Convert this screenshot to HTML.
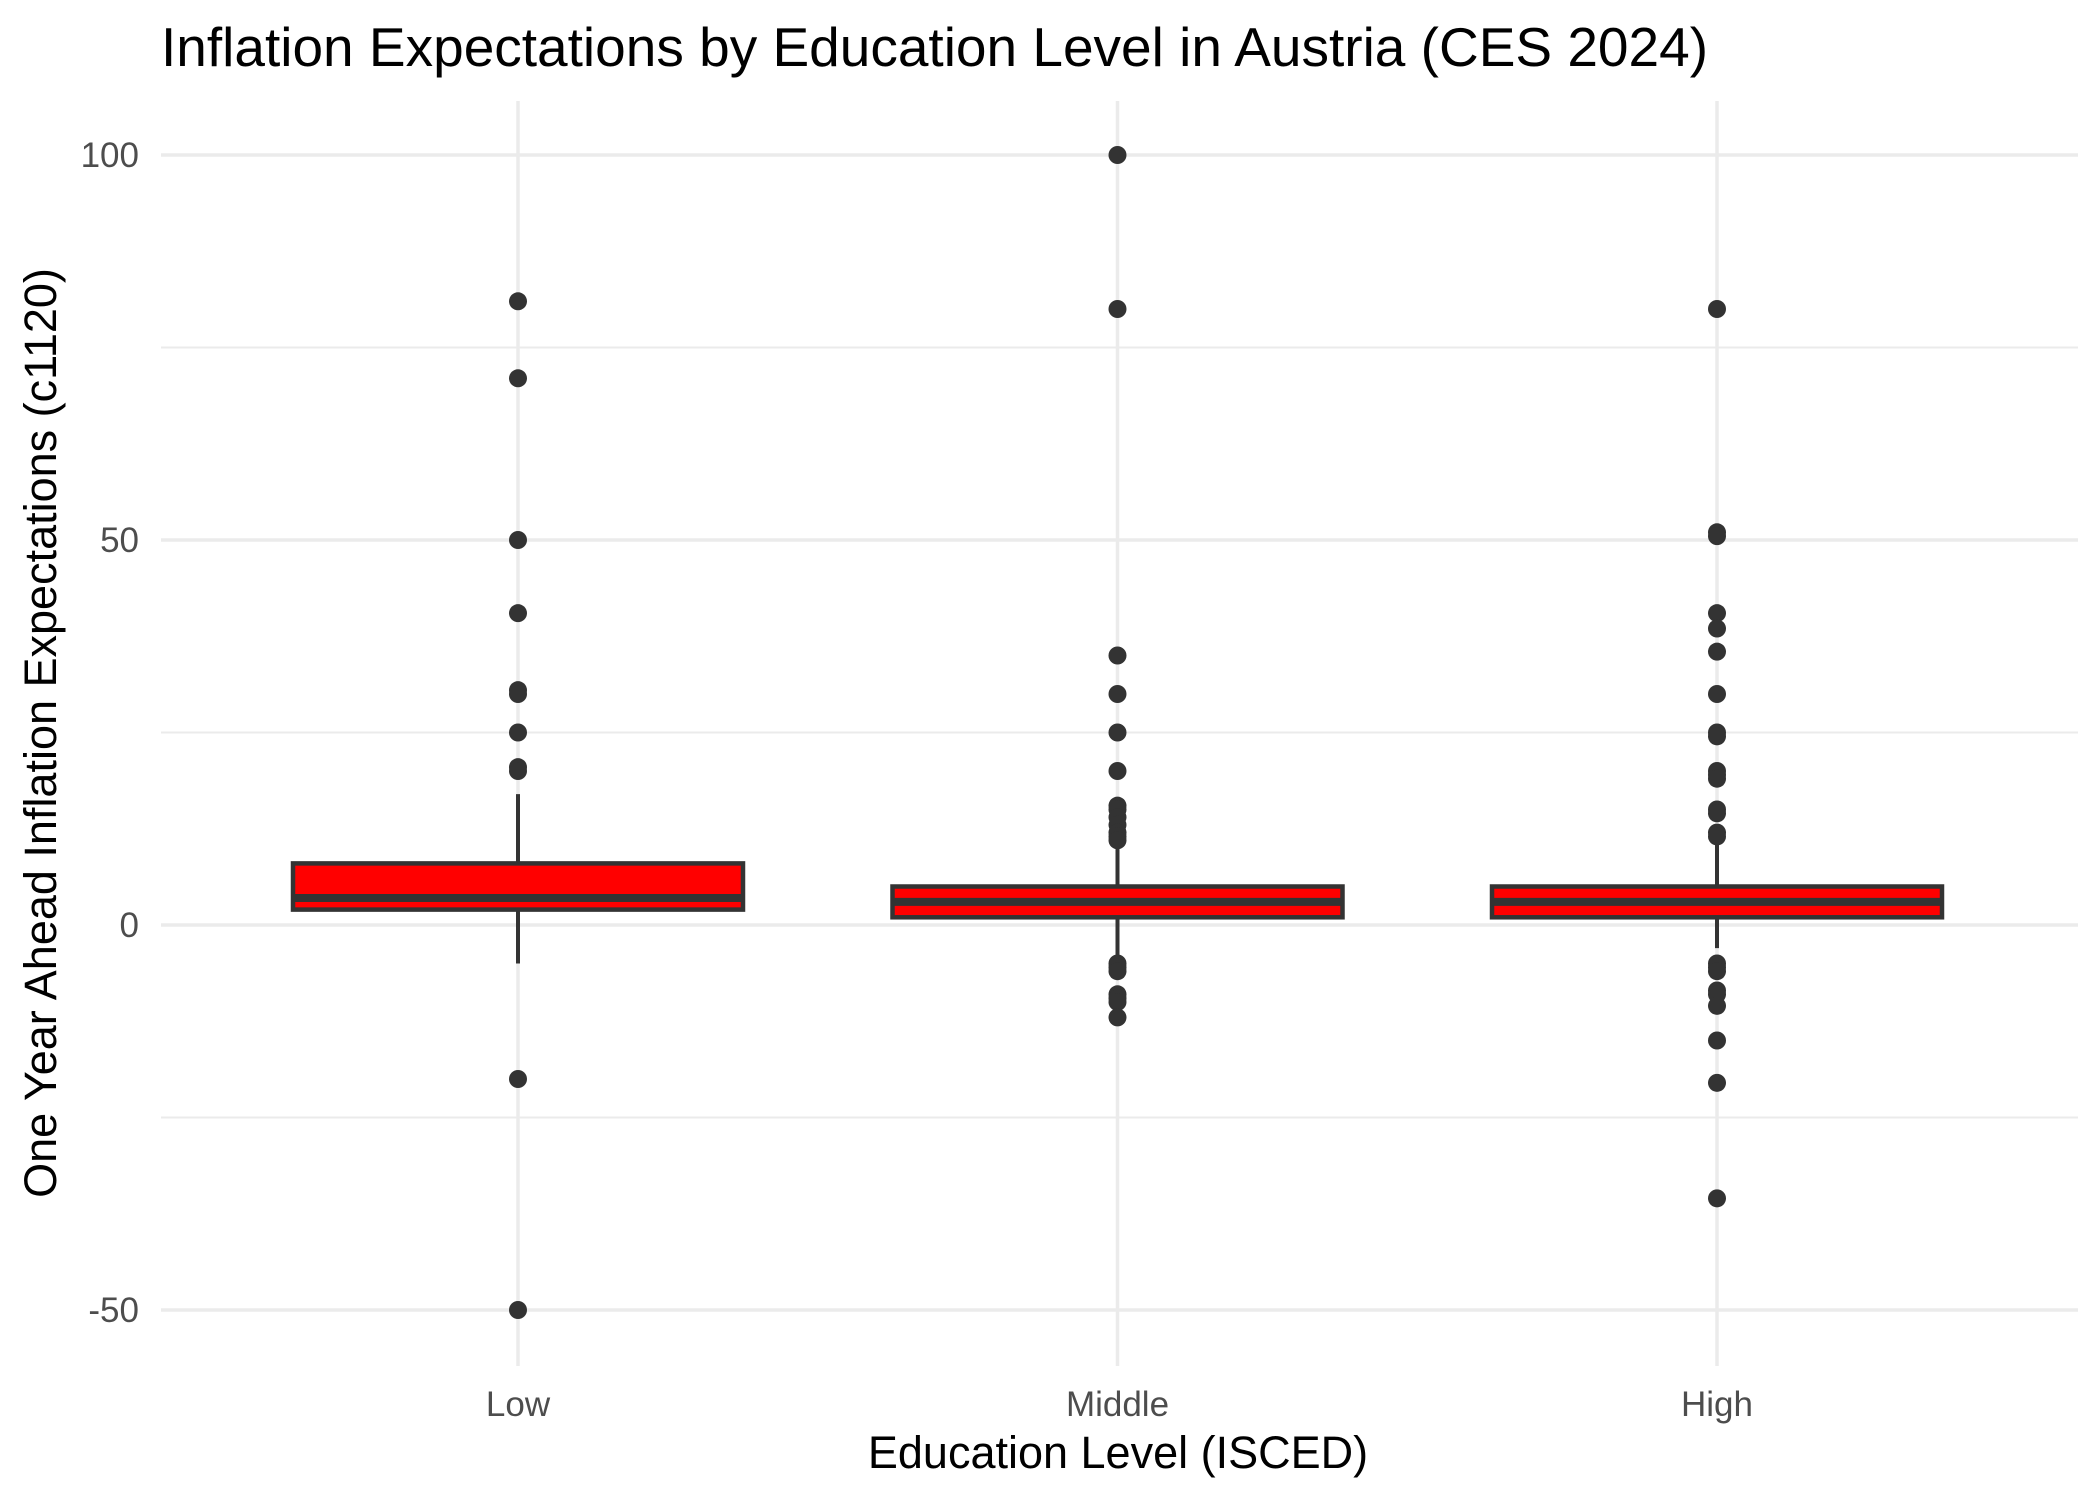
<!DOCTYPE html>
<html><head><meta charset="utf-8"><style>
body{margin:0;background:#fff}
svg text{font-family:"Liberation Sans",sans-serif}
</style></head><body>
<svg id="chart" width="2100" height="1500" xmlns="http://www.w3.org/2000/svg">
<rect width="2100" height="1500" fill="#fff"/>
<g id="grid"></g><g id="marks"></g><g id="labels"></g>
<text x="161" y="66" font-size="55" fill="#000">Inflation Expectations by Education Level in Austria (CES 2024)</text>
<text x="1118" y="1468" font-size="45" text-anchor="middle" fill="#000">Education Level (ISCED)</text>
<text transform="translate(56,733) rotate(-90)" font-size="45" text-anchor="middle" fill="#000">One Year Ahead Inflation Expectations (c1120)</text>
</svg>
<script>
const categories=["Low","Middle","High"];
const q1=[2,1,1];
const medians=[3.5,3,3];
const q3=[8,5,5];
const whiskerLow=[-5,-4,-3];
const whiskerHigh=[17,10,10.5];
const outliersLow=[81,71,50,40.5,30.5,30,25,20.5,20,-20,-50];
const outliersMiddle=[100,80,35,30,25,20,15.5,15,14,13,12,11.5,11,-5,-5.5,-6,-9,-9.5,-10,-12];
const outliersHigh=[80,51,50.5,40.5,38.5,35.5,30,25,24.5,20,19.5,19,15,14.5,12,11.5,-5,-5.5,-6,-8.5,-9,-10.5,-15,-20.5,-35.5];
const majorTicks=[-50,0,50,100];
const minorTicks=[-25,25,75];
const NS="http://www.w3.org/2000/svg";
const y=v=>925-v*7.70;
const x=i=>518+i*599.5;
const L=161,R=2078,T=101,B=1366,HW=225;
function mk(p,tag,a){const e=document.createElementNS(NS,tag);for(const k in a)e.setAttribute(k,a[k]);document.getElementById(p).appendChild(e);return e;}
minorTicks.forEach(t=>{const e=mk('grid','line',{x1:L,x2:R,y1:y(t),y2:y(t),stroke:'#ebebeb','stroke-width':2});

});
majorTicks.forEach(t=>{const e=mk('grid','line',{x1:L,x2:R,y1:y(t),y2:y(t),stroke:'#ebebeb','stroke-width':3.5});


const l=mk('labels','text',{x:139,y:y(t)+12,'font-size':35,fill:'#4d4d4d','text-anchor':'end'});l.textContent=t;

});
categories.forEach((c,i)=>{const e=mk('grid','line',{x1:x(i),x2:x(i),y1:T,y2:B,stroke:'#ebebeb','stroke-width':3.5});


const l=mk('labels','text',{x:x(i),y:1416,'font-size':35,fill:'#4d4d4d','text-anchor':'middle'});l.textContent=c;

});
const outs=[outliersLow,outliersMiddle,outliersHigh];
categories.forEach((c,i)=>{
const w=mk('marks','line',{x1:x(i),x2:x(i),y1:y(whiskerHigh[i]),y2:y(whiskerLow[i]),stroke:'#333','stroke-width':4});


const b=mk('marks','rect',{x:x(i)-HW,y:y(q3[i]),width:2*HW,height:y(q1[i])-y(q3[i]),fill:'#ff0000',stroke:'#333','stroke-width':4.5});


const m=mk('marks','line',{x1:x(i)-HW,x2:x(i)+HW,y1:y(medians[i]),y2:y(medians[i]),stroke:'#333','stroke-width':8});


outs[i].forEach(v=>{const p=mk('marks','circle',{cx:x(i),cy:y(v),r:9,fill:'#333'});

});
});
</script>
</body></html>
